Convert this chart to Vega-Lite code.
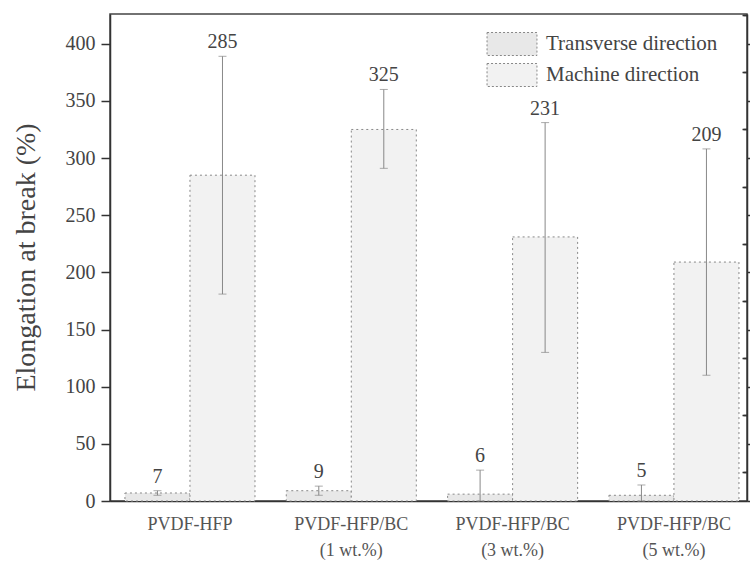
{
  "$schema": "https://vega.github.io/schema/vega-lite/v6.json",
  "width": 637,
  "height": 487,
  "autosize": {"type": "none"},
  "padding": {"left": 110, "top": 14, "right": 3, "bottom": 60},
  "background": "white",
  "config": {
    "font": "Liberation Serif",
    "view": {"stroke": "#444", "strokeWidth": 1.5},
    "axis": {"domainColor": "#333", "tickColor": "#333", "labelColor": "#444", "titleColor": "#444", "grid": false, "labelFont": "Liberation Serif", "titleFont": "Liberation Serif"}
  },
  "data": {
    "values": [
      {"group": "PVDF-HFP", "series": "Transverse direction", "value": 7, "lo": 5, "hi": 9},
      {"group": "PVDF-HFP", "series": "Machine direction", "value": 285, "lo": 181, "hi": 389},
      {"group": "PVDF-HFP/BC\n(1 wt.%)", "series": "Transverse direction", "value": 9, "lo": 5, "hi": 13},
      {"group": "PVDF-HFP/BC\n(1 wt.%)", "series": "Machine direction", "value": 325, "lo": 291, "hi": 360},
      {"group": "PVDF-HFP/BC\n(3 wt.%)", "series": "Transverse direction", "value": 6, "lo": 0, "hi": 27},
      {"group": "PVDF-HFP/BC\n(3 wt.%)", "series": "Machine direction", "value": 231, "lo": 130, "hi": 331},
      {"group": "PVDF-HFP/BC\n(5 wt.%)", "series": "Transverse direction", "value": 5, "lo": 0, "hi": 14},
      {"group": "PVDF-HFP/BC\n(5 wt.%)", "series": "Machine direction", "value": 209, "lo": 110, "hi": 308}
    ]
  },
  "resolve": {"axis": {"y": "independent"}},
  "layer": [
    {
      "mark": {"type": "bar", "stroke": "#888", "strokeWidth": 1, "strokeDash": [2, 3]},
      "encoding": {
        "x": {
          "field": "group", "type": "nominal", "sort": null,
          "scale": {"paddingInner": 0.194, "paddingOuter": 0.0713, "align": 0.65},
          "axis": {"title": null, "labelAngle": 0, "labelExpr": "split(datum.label, '\\n')", "labelFontSize": 18, "labelLineHeight": 26, "labelPadding": 14, "labelColor": "#555", "ticks": false, "domainWidth": 1.5}
        },
        "xOffset": {
          "field": "series", "type": "nominal",
          "sort": ["Transverse direction", "Machine direction"],
          "scale": {"paddingInner": 0, "paddingOuter": 0}
        },
        "y": {
          "field": "value", "type": "quantitative",
          "scale": {"domain": [0, 426], "nice": false, "zero": true},
          "axis": {
            "values": [0, 50, 100, 150, 200, 250, 300, 350, 400],
            "tickSize": 9, "tickWidth": 1.5, "domainWidth": 1.5,
            "labelFontSize": 20, "labelPadding": 6,
            "title": "Elongation at break (%)", "titleFontSize": 28, "titleFontWeight": "normal",
            "titleX": -84, "titleY": 243, "titleAngle": -90, "titleAlign": "center", "titleBaseline": "middle"
          }
        },
        "fill": {
          "field": "series", "type": "nominal",
          "scale": {"domain": ["Transverse direction", "Machine direction"], "range": ["#e8e8e8", "#f2f2f2"]},
          "legend": {
            "title": null, "orient": "none", "legendX": 390, "legendY": 18, "padding": 0,
            "symbolType": "M-2.17,-1H2.17V1H-2.17Z", "symbolSize": 529,
            "symbolStrokeColor": "#888", "symbolStrokeWidth": 1, "symbolDash": [2, 2],
            "labelFontSize": 21, "labelColor": "#444", "labelOffset": 22, "labelLimit": 300, "rowPadding": 3
          }
        }
      }
    },
    {
      "mark": {"type": "rule", "color": "#888", "strokeWidth": 1},
      "encoding": {
        "x": {"field": "group", "type": "nominal", "sort": null},
        "xOffset": {"field": "series", "type": "nominal", "sort": ["Transverse direction", "Machine direction"]},
        "y": {
          "field": "lo", "type": "quantitative",
          "axis": {"values": [25, 75, 125, 175, 225, 275, 325, 375, 425], "tickSize": -5, "tickWidth": 1.5, "labels": false, "domain": false, "title": null}
        },
        "y2": {"field": "hi"}
      }
    },
    {
      "mark": {"type": "tick", "color": "#888", "size": 8, "thickness": 1},
      "encoding": {
        "x": {"field": "group", "type": "nominal", "sort": null},
        "xOffset": {"field": "series", "type": "nominal", "sort": ["Transverse direction", "Machine direction"]},
        "y": {
          "field": "hi", "type": "quantitative",
          "axis": {"orient": "right", "values": [0, 50, 100, 150, 200, 250, 300, 350, 400], "tickSize": 8, "tickWidth": 1.5, "labels": false, "domainWidth": 1.5, "title": null}
        }
      }
    },
    {
      "mark": {"type": "tick", "color": "#888", "size": 8, "thickness": 1},
      "encoding": {
        "x": {"field": "group", "type": "nominal", "sort": null},
        "xOffset": {"field": "series", "type": "nominal", "sort": ["Transverse direction", "Machine direction"]},
        "y": {
          "field": "lo", "type": "quantitative",
          "axis": {"orient": "right", "values": [25, 75, 125, 175, 225, 275, 325, 375, 425], "tickSize": -4, "tickWidth": 1.5, "labels": false, "domain": false, "title": null}
        }
      }
    },
    {
      "mark": {"type": "text", "fontSize": 20, "color": "#444", "dy": -14, "baseline": "middle"},
      "encoding": {
        "x": {"field": "group", "type": "nominal", "sort": null},
        "xOffset": {"field": "series", "type": "nominal", "sort": ["Transverse direction", "Machine direction"]},
        "y": {"field": "hi", "type": "quantitative", "axis": null},
        "text": {"field": "value", "type": "quantitative"}
      }
    }
  ]
}
